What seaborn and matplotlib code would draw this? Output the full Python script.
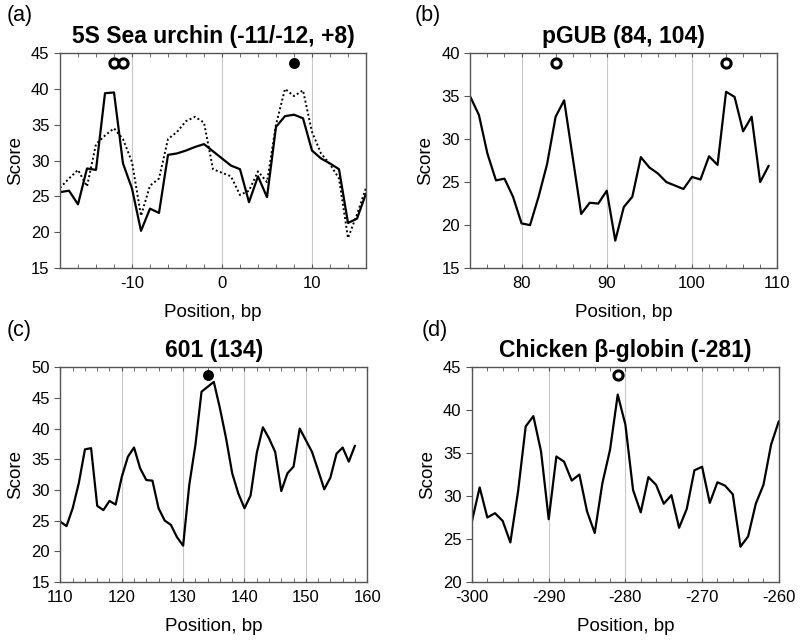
import numpy as np
import pandas as pd
import matplotlib
matplotlib.use("Agg")
import matplotlib.pyplot as plt
from matplotlib.ticker import MultipleLocator
import seaborn as sns

# Panel (a): 5S sea urchin, two profiles
pos_a = list(range(-18, 17))
solid_a = [25.6, 25.8, 23.9, 28.9, 28.7, 39.4, 39.5, 29.6, 26.1, 20.2,
           23.3, 22.7, 30.8, 31.0, 31.4, 31.9, 32.3, 31.3, 30.3, 29.3,
           28.8, 24.2, 27.8, 24.9, 34.7, 36.2, 36.4, 35.9, 31.4, 30.3,
           29.6, 28.8, 21.3, 21.9, 25.4]
dotted_a = [26.2, 27.5, 28.7, 26.4, 32.3, 33.5, 34.5, 33.0, 29.8, 22.3,
            26.5, 27.5, 33.0, 34.0, 35.5, 36.1, 35.3, 28.8, 28.3, 27.8,
            25.2, 25.8, 28.5, 27.0, 35.0, 40.0, 39.0, 39.8, 34.0, 31.0,
            29.5, 27.5, 19.2, 22.5, 26.2]
open_a = [-12, -11]
filled_a = [8]

# Panel (b): pGUB
pos_b = list(range(74, 110))
score_b = [34.9, 32.8, 28.3, 25.2, 25.4, 23.3, 20.2, 20.0, 23.3, 27.1,
           32.6, 34.5, 27.9, 21.3, 22.6, 22.5, 24.0, 18.2, 22.1, 23.3,
           27.9, 26.7, 26.0, 25.0, 24.6, 24.2, 25.6, 25.3, 28.0, 27.0,
           35.5, 34.9, 30.9, 32.6, 25.0, 26.9]
open_b = [84, 104]

# Panel (c): 601
pos_c = list(range(110, 159))
score_c = [24.8, 24.1, 27.0, 31.1, 36.6, 36.8, 27.4, 26.7, 28.2, 27.6,
           32.1, 35.4, 36.9, 33.5, 31.6, 31.5, 27.0, 25.0, 24.3, 22.3,
           20.9, 30.8, 37.3, 46.0, 46.8, 47.6, 43.3, 38.4, 32.7, 29.4,
           27.0, 29.1, 36.0, 40.2, 38.4, 36.2, 29.8, 32.7, 33.8, 40.0,
           38.1, 36.2, 33.2, 30.1, 32.0, 35.9, 36.9, 34.6, 37.2]
filled_c = [134]

# Panel (d): chicken beta-globin
pos_d = list(range(-300, -259))
score_d = [27.1, 31.0, 27.5, 28.0, 27.1, 24.6, 30.5, 38.1, 39.3, 35.2,
           27.3, 34.6, 34.0, 31.8, 32.5, 28.2, 25.7, 31.5, 35.4, 41.8,
           38.3, 30.7, 28.1, 32.2, 31.3, 29.1, 30.1, 26.3, 28.5, 33.0,
           33.4, 29.2, 31.6, 31.2, 30.2, 24.1, 25.3, 29.1, 31.3, 36.0,
           38.7]
open_d = [-281]

sns.set_style("ticks")
plt.rcParams["font.family"] = ["Liberation Sans", "DejaVu Sans"]
plt.rcParams["axes.unicode_minus"] = False
plt.rcParams["text.color"] = "black"
plt.rcParams["axes.labelcolor"] = "black"

fig = plt.figure(figsize=(8, 6.43), dpi=100)
ax_a = fig.add_axes([0.075, 0.583, 0.3825, 0.3345])
ax_b = fig.add_axes([0.588, 0.583, 0.3835, 0.3345])
ax_c = fig.add_axes([0.0755, 0.095, 0.3835, 0.334])
ax_d = fig.add_axes([0.590, 0.095, 0.3835, 0.334])

spine_col = "#555555"


def style_axis(ax, title, xlim, ylim, xmajor, letter, lx, ly):
    ax.set_xlim(*xlim)
    ax.set_ylim(*ylim)
    ax.xaxis.set_major_locator(MultipleLocator(xmajor))
    ax.xaxis.set_minor_locator(MultipleLocator(2))
    ax.yaxis.set_major_locator(MultipleLocator(5))
    ax.grid(axis="x", which="major", color="#c8c8c8", lw=0.8)
    ax.grid(axis="y", visible=False)
    for s in ax.spines.values():
        s.set_visible(True)
        s.set_color(spine_col)
        s.set_linewidth(1.0)
    ax.tick_params(axis="x", which="both", direction="in", top=True,
                   bottom=True, length=3, color=spine_col, labelsize=12,
                   labelcolor="black", pad=6)
    ax.tick_params(axis="y", direction="out", length=4, color=spine_col,
                   labelsize=12, labelcolor="black")
    ax.set_title(title, fontsize=16.5, fontweight="bold", pad=7)
    ax.set_xlabel("Position, bp", fontsize=13.5, labelpad=9)
    ax.set_ylabel("Score", fontsize=13.5, labelpad=5)
    fig.text(lx, ly, letter, fontsize=15.5, va="top", ha="left")


def draw_marks(ax, xs, y, filled):
    df = pd.DataFrame({"x": xs, "y": [y] * len(xs)})
    if filled:
        sns.scatterplot(data=df, x="x", y="y", ax=ax, s=62, color="black",
                        edgecolor="black", linewidth=0, zorder=5)
    else:
        sns.scatterplot(data=df, x="x", y="y", ax=ax, s=44, color="white",
                        edgecolor="black", linewidth=2.2, zorder=5)


# (a)
df_a = pd.DataFrame({"pos": pos_a, "solid": solid_a, "dotted": dotted_a})
sns.lineplot(data=df_a, x="pos", y="dotted", ax=ax_a, color="black",
             lw=1.4, linestyle=(0, (1, 1.3)))
sns.lineplot(data=df_a, x="pos", y="solid", ax=ax_a, color="black", lw=1.6)
draw_marks(ax_a, open_a, 43.6, False)
draw_marks(ax_a, filled_a, 43.6, True)
style_axis(ax_a, "5S Sea urchin (-11/-12, +8)", (-18, 16), (15, 45), 10,
           "(a)", 0.008, 0.992)

# (b)
df_b = pd.DataFrame({"pos": pos_b, "score": score_b})
sns.lineplot(data=df_b, x="pos", y="score", ax=ax_b, color="black", lw=1.6)
draw_marks(ax_b, open_b, 38.8, False)
style_axis(ax_b, "pGUB (84, 104)", (74, 110), (15, 40), 10,
           "(b)", 0.518, 0.992)

# (c)
df_c = pd.DataFrame({"pos": pos_c, "score": score_c})
sns.lineplot(data=df_c, x="pos", y="score", ax=ax_c, color="black", lw=1.6)
draw_marks(ax_c, filled_c, 48.8, True)
style_axis(ax_c, "601 (134)", (110, 160), (15, 50), 10,
           "(c)", 0.008, 0.503)

# (d)
df_d = pd.DataFrame({"pos": pos_d, "score": score_d})
sns.lineplot(data=df_d, x="pos", y="score", ax=ax_d, color="black", lw=1.6)
draw_marks(ax_d, open_d, 44.1, False)
style_axis(ax_d, "Chicken \u03b2-globin (-281)", (-300, -260), (20, 45), 10,
           "(d)", 0.527, 0.503)

fig.savefig("out.png", dpi=100)
